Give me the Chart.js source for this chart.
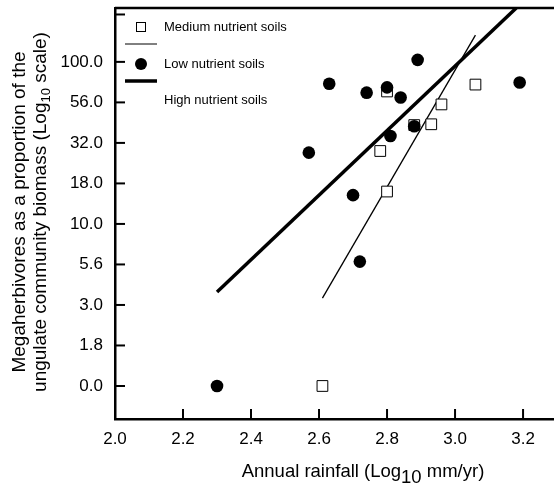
<!DOCTYPE html>
<html>
<head>
<meta charset="utf-8">
<script src="https://cdn.jsdelivr.net/npm/chart.js@4"></script>
<style>
  html, body { margin: 0; padding: 0; background: #fff; }
  #wrap { width: 554px; height: 491px; }
</style>
</head>
<body>
<div id="wrap"><canvas id="myChart" width="554" height="491"></canvas></div>
<script>
// 數據 (x = log10 rainfall, y = index on the log10 tick ladder)
var yTickLabels = ['0.0', '1.8', '3.0', '5.6', '10.0', '18.0', '32.0', '56.0', '100.0'];
var xTickValues = [2.0, 2.2, 2.4, 2.6, 2.8, 3.0, 3.2];

// Low nutrient soils (filled circles)
var lowX = [2.30, 2.63, 2.89, 2.74, 2.80, 2.84, 2.88, 2.81, 2.57, 2.70, 3.19, 2.72];
var lowY = [0.00, 7.46, 8.05, 7.24, 7.37, 7.12, 6.41, 6.17, 5.76, 4.71, 7.49, 3.07];

// Medium nutrient soils (open squares)
var medX = [3.06, 2.80, 2.96, 2.88, 2.93, 2.78, 2.80, 2.61];
var medY = [7.44, 7.27, 6.95, 6.44, 6.46, 5.80, 4.80, 0.00];

// regression lines
var medLineX = [2.61, 3.06];
var medLineY = [2.17, 8.66];
var highLineX = [2.30, 3.18];
var highLineY = [2.32, 9.33];

function toPoints(xs, ys) {
    return xs.map((x, i) => ({ x: x, y: ys[i] }));
}

var FONT = '"Liberation Sans", Arial, sans-serif';

function noPad(scale) {
    scale.paddingLeft = 0;
    scale.paddingRight = 0;
    scale.paddingTop = 0;
    scale.paddingBottom = 0;
}

var extrasPlugin = {
    id: 'extras',
    afterDraw: function (chart) {
        var ctx = chart.ctx;
        var area = chart.chartArea;
        var xs = chart.scales.x, ys = chart.scales.y;
        ctx.save();
        ctx.strokeStyle = '#000';
        ctx.fillStyle = '#000';

        // 上框線
        ctx.lineWidth = 2.5;
        ctx.beginPath();
        ctx.moveTo(area.left, area.top);
        ctx.lineTo(area.right, area.top);
        ctx.stroke();

        // 內向刻度
        ctx.lineWidth = 2;
        xTickValues.forEach(v => {
            var px = xs.getPixelForValue(v);
            ctx.beginPath();
            ctx.moveTo(px, area.bottom);
            ctx.lineTo(px, area.bottom - 10);
            ctx.stroke();
        });
        yTickLabels.forEach((l, i) => {
            var py = ys.getPixelForValue(i);
            ctx.beginPath();
            ctx.moveTo(area.left, py);
            ctx.lineTo(area.left + 10, py);
            ctx.stroke();
        });
        var pyTop = ys.getPixelForValue(9.17);
        ctx.beginPath();
        ctx.moveTo(area.left, pyTop);
        ctx.lineTo(area.left + 10, pyTop);
        ctx.stroke();

        // 圖例
        ctx.lineWidth = 1;
        ctx.fillStyle = '#fff';
        ctx.fillRect(136.5, 22.5, 9, 9);
        ctx.strokeRect(136.5, 22.5, 9, 9);
        ctx.fillStyle = '#000';
        ctx.beginPath();
        ctx.moveTo(125, 44);
        ctx.lineTo(157, 44);
        ctx.stroke();
        ctx.beginPath();
        ctx.arc(141, 64, 6, 0, Math.PI * 2);
        ctx.fill();
        ctx.lineWidth = 3.5;
        ctx.beginPath();
        ctx.moveTo(125, 81);
        ctx.lineTo(157, 81);
        ctx.stroke();

        ctx.font = '13px ' + FONT;
        ctx.textBaseline = 'middle';
        ctx.textAlign = 'left';
        ctx.fillText('Medium nutrient soils', 164, 27);
        ctx.fillText('Low nutrient soils', 164, 64);
        ctx.fillText('High nutrient soils', 164, 100);

        // x 軸標題 (含下標)
        ctx.textBaseline = 'alphabetic';
        ctx.font = '18.5px ' + FONT;
        var a = 'Annual rainfall (Log', b = '10', c = ' mm/yr)';
        var wa = ctx.measureText(a).width, wb = ctx.measureText(b).width, wc = ctx.measureText(c).width;
        var x0 = 363 - (wa + wb + wc) / 2;
        ctx.fillText(a, x0, 477);
        ctx.fillText(b, x0 + wa, 483);
        ctx.fillText(c, x0 + wa + wb, 477);

        // y 軸標題 (兩行，旋轉)
        ctx.rotate(-Math.PI / 2);
        ctx.textAlign = 'center';
        ctx.font = '19px ' + FONT;
        ctx.fillText('Megaherbivores as a proportion of the', -212, 25);
        var s1 = 'ungulate community biomass (Log', s2 = '10', s3 = ' scale)';
        var w1 = ctx.measureText(s1).width, w3 = ctx.measureText(s3).width;
        ctx.font = '13px ' + FONT;
        var w2 = ctx.measureText(s2).width;
        var start = -212 - (w1 + w2 + w3) / 2;
        ctx.textAlign = 'left';
        ctx.font = '19px ' + FONT;
        ctx.fillText(s1, start, 46);
        ctx.font = '13px ' + FONT;
        ctx.fillText(s2, start + w1, 50);
        ctx.font = '19px ' + FONT;
        ctx.fillText(s3, start + w1 + w2, 46);
        ctx.restore();
    }
};

var ctx = document.getElementById('myChart').getContext('2d');
var myChart = new Chart(ctx, {
    type: 'scatter',
    data: {
        datasets: [
            {
                label: 'Low nutrient soils',
                data: toPoints(lowX, lowY),
                pointStyle: 'circle',
                pointRadius: 6.3,
                backgroundColor: '#000',
                borderColor: '#000',
                borderWidth: 0,
                order: 1
            },
            {
                label: 'Medium nutrient soils',
                data: toPoints(medX, medY),
                pointStyle: 'rect',
                pointRadius: 7.6,
                backgroundColor: '#fff',
                borderColor: '#000',
                borderWidth: 1,
                order: 2
            },
            {
                type: 'line',
                label: 'Medium fit',
                data: toPoints(medLineX, medLineY),
                borderColor: '#000',
                borderWidth: 1.3,
                pointRadius: 0,
                fill: false,
                order: 3
            },
            {
                type: 'line',
                label: 'High nutrient soils',
                data: toPoints(highLineX, highLineY),
                borderColor: '#000',
                borderWidth: 3.5,
                pointRadius: 0,
                fill: false,
                order: 3
            }
        ]
    },
    options: {
        responsive: false,
        animation: false,
        layout: { autoPadding: false, padding: { top: 8, right: 0, left: 0, bottom: 0 } },
        plugins: {
            legend: { display: false },
            tooltip: { enabled: false }
        },
        scales: {
            x: {
                type: 'linear',
                min: 2.0,
                max: 3.291,
                afterBuildTicks: function (scale) {
                    scale.ticks = xTickValues.map(v => ({ value: v }));
                },
                afterFit: function (scale) { scale.height = 72; noPad(scale); },
                ticks: {
                    color: '#000',
                    font: { size: 17, family: FONT },
                    padding: 10,
                    maxRotation: 0,
                    callback: function (value) { return value.toFixed(1); }
                },
                grid: { drawOnChartArea: false, drawTicks: false },
                border: { color: '#000', width: 2.5 }
            },
            y: {
                type: 'linear',
                min: -0.815,
                max: 9.33,
                afterBuildTicks: function (scale) {
                    scale.ticks = yTickLabels.map((l, i) => ({ value: i }));
                },
                afterFit: function (scale) { scale.width = 115; noPad(scale); },
                ticks: {
                    color: '#000',
                    font: { size: 17, family: FONT },
                    padding: 12,
                    callback: function (value) { return yTickLabels[value]; }
                },
                grid: { drawOnChartArea: false, drawTicks: false },
                border: { color: '#000', width: 2.5 }
            }
        }
    },
    plugins: [extrasPlugin]
});
</script>
</body>
</html>
